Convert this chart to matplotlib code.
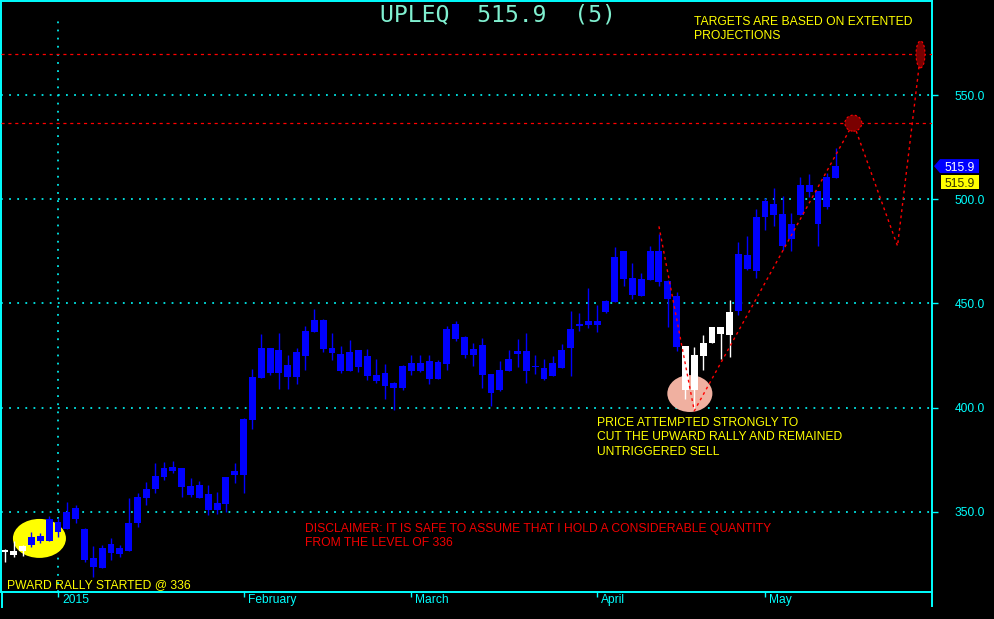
import matplotlib
matplotlib.use('Agg')
import matplotlib.pyplot as plt
from matplotlib.patches import Ellipse, Polygon, Rectangle
from matplotlib.lines import Line2D
from matplotlib.transforms import IdentityTransform
from matplotlib import font_manager
import numpy as np

W, H = 994, 619

# ---------------- data ----------------
body_top = [331.4, 331.3, 333.7, 337.9, 338.5, 346.5, 345.4, 350.0, 351.8, 341.8,
            328.1, 332.8, 334.7, 332.9, 344.7, 357.0, 361.0, 367.3, 371.1, 371.6,
            371.1, 362.5, 362.8, 358.6, 354.3, 366.8, 369.7, 394.6, 414.6, 428.7,
            428.7, 427.7, 420.5, 426.7, 436.8, 442.1, 442.1, 428.7, 425.8, 426.7,
            427.7, 424.8, 415.7, 416.7, 411.9, 420.0, 421.5, 421.5, 422.4, 421.9,
            437.8, 440.3, 433.9, 428.2, 430.1, 416.2, 418.1, 423.4, 427.2, 427.2,
            420.0, 419.1, 421.5, 427.7, 437.8, 440.2, 441.6, 441.6, 451.2, 472.3,
            475.2, 462.2, 461.7, 475.2, 475.2, 460.8, 453.6, 429.6, 425.3, 431.1,
            438.7, 438.7, 445.9, 473.7, 473.3, 491.5, 499.2, 497.7, 492.9, 488.1,
            506.8, 506.8, 503.9, 510.7, 515.9]
body_bottom = [331.0, 329.4, 331.3, 334.2, 336.1, 336.3, 340.6, 341.7, 346.5, 327.0,
               323.5, 323.3, 330.3, 330.0, 331.4, 344.5, 356.9, 361.0, 366.8, 369.7,
               362.0, 358.2, 356.9, 351.0, 351.1, 354.0, 367.5, 367.8, 394.3, 414.4,
               416.8, 416.8, 414.7, 414.7, 425.0, 436.5, 428.2, 426.3, 417.6, 417.6,
               419.6, 415.2, 412.8, 410.4, 409.5, 409.5, 417.6, 417.6, 413.8, 413.8,
               421.1, 433.0, 425.3, 425.3, 415.7, 407.1, 408.5, 417.6, 426.0, 417.6,
               419.6, 413.8, 415.2, 419.1, 428.8, 439.2, 439.7, 439.7, 445.9, 450.7,
               461.7, 454.1, 453.6, 461.3, 460.3, 452.2, 429.3, 408.5, 408.5, 424.8,
               431.1, 435.4, 434.9, 446.4, 466.6, 465.8, 491.5, 492.5, 477.6, 480.9,
               492.5, 503.5, 488.1, 496.3, 510.2]
high = [332.3, 336.0, 334.2, 340.6, 340.0, 348.0, 347.0, 355.0, 353.4, 342.5,
        333.7, 334.0, 337.7, 334.2, 356.7, 358.9, 364.4, 373.3, 374.0, 374.5,
        371.1, 366.2, 365.0, 363.0, 359.6, 366.8, 373.5, 395.1, 418.5, 435.5,
        428.7, 435.9, 425.3, 428.7, 439.4, 447.4, 442.6, 435.9, 429.6, 432.5,
        427.7, 428.2, 423.4, 421.0, 412.4, 420.5, 425.3, 425.3, 425.3, 423.0,
        439.4, 441.6, 434.4, 431.1, 433.6, 416.2, 422.4, 427.7, 433.0, 435.9,
        425.3, 423.4, 424.8, 430.6, 446.4, 445.4, 457.4, 449.3, 451.7, 477.1,
        475.2, 469.4, 464.6, 477.6, 483.3, 461.3, 455.5, 429.6, 429.1, 434.9,
        438.7, 438.7, 451.7, 479.5, 482.4, 495.3, 500.6, 505.4, 501.6, 493.4,
        510.7, 512.1, 503.9, 512.6, 524.6]
low = [326.2, 328.3, 328.9, 333.0, 335.0, 336.3, 338.2, 341.7, 344.9, 326.2,
       319.0, 323.3, 327.0, 328.4, 331.4, 343.0, 353.4, 359.0, 365.4, 368.5,
       357.4, 357.0, 356.9, 348.7, 349.0, 350.2, 363.8, 359.3, 389.8, 414.4,
       415.6, 409.0, 409.0, 411.6, 418.1, 436.5, 426.9, 423.0, 416.7, 417.6,
       417.2, 413.3, 411.9, 404.2, 398.9, 408.5, 415.7, 417.2, 411.6, 413.8,
       418.1, 432.0, 424.0, 420.2, 409.5, 400.8, 408.0, 417.6, 419.6, 411.9,
       416.2, 413.3, 415.2, 419.1, 415.4, 436.8, 438.3, 436.3, 445.4, 450.7,
       458.4, 452.2, 453.6, 461.3, 458.4, 438.7, 427.4, 404.4, 398.9, 418.1,
       431.1, 423.4, 424.3, 444.5, 466.1, 462.4, 485.3, 487.2, 475.7, 475.2,
       492.5, 501.1, 477.6, 495.3, 510.2]
white_idx = [0, 1, 2, 77, 78, 79, 80, 81, 82]

month_labels = ['2015', 'February', 'March', 'April', 'May']
month_pos = [6, 27, 46, 67, 86]
price_ticks = [350, 400, 450, 500, 550]
target_levels = [536.5, 569.5]
proj_x = [74, 78, 96, 101, 103.6]
proj_y = [487.0, 398.5, 536.5, 477.6, 569.5]
last_price = 515.9
title = 'UPLEQ  515.9  (5)'

# ---------------- style ----------------
CYAN = '#00ffff'
GRID = '#00e8e8'
BLUE = '#0000ff'
YEL = '#ffff00'
RED = '#ff0000'

names = {f.name for f in font_manager.fontManager.ttflist}
if 'Liberation Sans Narrow' in names:
    ANN_FONT, ANN_SIZE = 'Liberation Sans Narrow', 10.2
else:
    ANN_FONT, ANN_SIZE = 'Liberation Sans', 8.7
LAB_FONT, LAB_SIZE = 'Liberation Sans', 8.64

fig = plt.figure(figsize=(W / 100, H / 100), dpi=100, facecolor='black')
ax = fig.add_axes([1 / W, 27 / H, 931 / W, 591 / H], facecolor='black')
ax.set_xlim(-0.45, 104.9)
ax.set_ylim(311.6, 595.1)

for s in ax.spines.values():
    s.set_color(CYAN)
    s.set_linewidth(1.4)

# y axis on the right
ax.yaxis.tick_right()
ax.set_yticks(price_ticks)
ax.set_yticklabels([f'{v:.1f}' for v in price_ticks])
ax.tick_params(axis='y', colors=CYAN, length=4.3, width=1, pad=12, labelsize=LAB_SIZE)
for lab in ax.get_yticklabels():
    lab.set_family(LAB_FONT)

# x ticks (labels drawn to the right of the tick)
ax.set_xticks(month_pos)
ax.set_xticklabels([])
ax.tick_params(axis='x', colors=CYAN, length=3.6, width=1, direction='out')
for pos, lab in zip(month_pos, month_labels):
    ax.annotate(lab, xy=(pos, 0), xycoords=('data', 'axes fraction'),
                xytext=(4, -11), textcoords='offset pixels', ha='left', va='baseline',
                color=CYAN, fontsize=LAB_SIZE, family=LAB_FONT, annotation_clip=False)

# grid
for v in price_ticks:
    ax.axhline(v, color=GRID, lw=1.3, ls=(0, (1, 3.5)), zorder=1)
ax.vlines(month_pos[0], 311.6, 586, color=GRID, lw=1.3, ls=(0, (1, 3.5)), zorder=1)

# target levels
for v in target_levels:
    ax.axhline(v, color=RED, lw=0.9, ls=(0, (2.5, 3)), zorder=3)

# highlight ellipses
ax.add_patch(Ellipse((3.9, 337.3), 6.0, 18.7, fc=YEL, ec='none', zorder=2))
ax.add_patch(Ellipse((77.5, 406.8), 5.1, 17.7, fc='#f0b0a0', ec='none', zorder=2))

# candles
idx = np.arange(len(body_top))
colors = ['#ffffff' if i in white_idx else BLUE for i in idx]
ax.vlines(idx, low, high, colors=colors, lw=1.0, zorder=4)
heights = np.maximum(np.array(body_top) - np.array(body_bottom), 0.6)
ax.bar(idx, heights, bottom=body_bottom, width=0.78, color=colors, linewidth=0, zorder=5)

# projection path
ax.plot(proj_x, proj_y, color=RED, lw=1.0, ls=(0, (2, 2.5)), zorder=6)
ax.add_patch(Ellipse((proj_x[2], proj_y[2]), 1.92, 7.7, fc='#7a0000', ec=RED,
                     lw=0.8, ls=(0, (2, 2)), zorder=6))
ax.add_patch(Ellipse((proj_x[4], proj_y[4]), 1.02, 12.9, fc='#7a0000', ec=RED,
                     lw=0.8, ls=(0, (2, 2)), zorder=6))


def ft(x, y, s, **kw):
    fig.text(x / W, 1 - y / H, s, **kw)


# title
ft(380, 21, title, family='DejaVu Sans Mono', fontsize=16.7, color='#80f0d0', va='baseline')

# annotations
ann = dict(family=ANN_FONT, fontsize=ANN_SIZE, va='baseline', ha='left')
ft(694, 25, 'TARGETS ARE BASED ON EXTENTED', color=YEL, **ann)
ft(694, 39, 'PROJECTIONS', color=YEL, **ann)
ft(597, 426, 'PRICE ATTEMPTED STRONGLY TO', color=YEL, **ann)
ft(597, 440.5, 'CUT THE UPWARD RALLY AND REMAINED', color=YEL, **ann)
ft(597, 455, 'UNTRIGGERED SELL', color=YEL, **ann)
ft(305, 532, 'DISCLAIMER: IT IS SAFE TO ASSUME THAT I HOLD A CONSIDERABLE QUANTITY', color='#f00000', **ann)
ft(305, 546, 'FROM THE LEVEL OF 336', color='#f00000', **ann)
ft(7, 588, 'PWARD RALLY STARTED @ 336', color=YEL, **ann)

# border extensions below the axis
ident = IdentityTransform()
fig.add_artist(Line2D([1.5, 1.5], [H - 592, H - 607], color=CYAN, lw=1.4, transform=ident))
fig.add_artist(Line2D([932, 932], [H - 592, H - 606], color=CYAN, lw=1.4, transform=ident))

# last price boxes
yd = ax.transData.transform((0, last_price))[1]
fig.add_artist(Polygon([(934, yd), (940, yd + 7), (979, yd + 7), (979, yd - 7), (940, yd - 7)],
                       closed=True, fc=BLUE, ec='none', transform=ident))
fig.text(960, yd, f'{last_price:.1f}', color='white', fontsize=LAB_SIZE, family=LAB_FONT,
         ha='center', va='center_baseline', transform=ident)
fig.add_artist(Rectangle((941, yd - 23), 38, 14, fc=YEL, ec='none', transform=ident))
fig.text(960, yd - 16, f'{last_price:.1f}', color='#303000', fontsize=LAB_SIZE, family=LAB_FONT,
         ha='center', va='center_baseline', transform=ident)

fig.savefig('out.png', dpi=100, facecolor='black')
